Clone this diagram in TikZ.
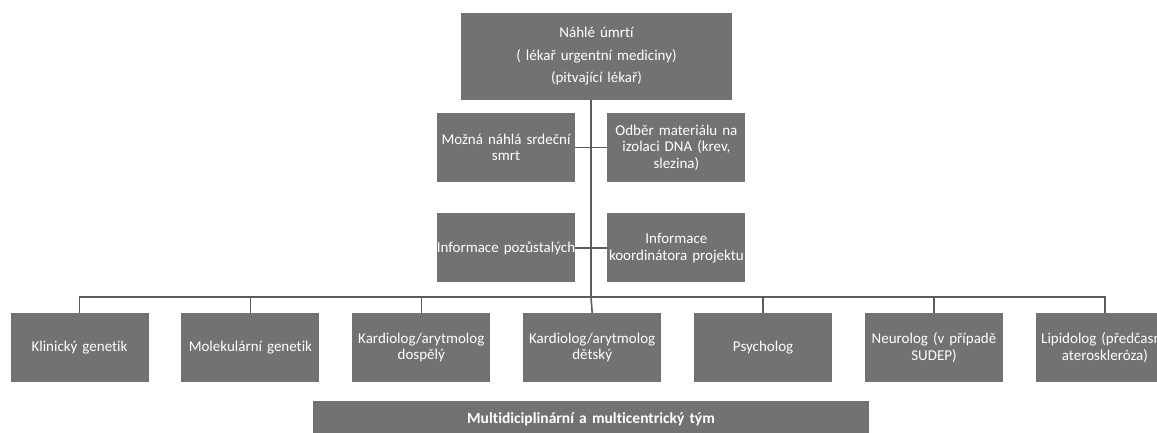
\documentclass[tikz,border=0pt]{standalone}
\usepackage{fontspec}
\setmainfont{Carlito}[Ligatures=NoCommon]
\usetikzlibrary{positioning}
\definecolor{boxgray}{RGB}{114,114,114}
\definecolor{linegray}{RGB}{92,92,92}

\begin{document}
\begin{tikzpicture}[x=1pt,y=-1pt,node distance=31pt and 32pt,
    box/.style={fill=boxgray,text=white,align=center,inner sep=1pt,text width=136pt,minimum height=69pt,font=\fontsize{15}{16.5}\selectfont},
    link/.style={draw=linegray,line width=1.6pt}]
    \useasboundingbox (0,0) rectangle (1157,433);
    \clip (0,0) rectangle (1157,433);
    \node[box,text width=269pt,minimum height=87pt,font=\fontsize{15}{22.5}\selectfont] (death) at (596.5,56.5) {Náhlé úmrtí\\( lékař urgentní mediciny)\\(pitvající lékař)};
    \node[box] (sudden) at (506,147.5) {Možná náhlá srdeční\\smrt};
    \node[box,right=of sudden] (sample) {Odběr materiálu na\\izolaci DNA (krev,\\slezina)};
    \node[box,below=of sudden] (relatives) {\makebox[136pt]{Informace pozůstalých}};
    \node[box,right=of relatives] (coord) {Informace\\koordinátora projektu};
    \node[box] (clin) at (79.5,347.5) {Klinický genetik};
    \node[box,right=32.5pt of clin] (molgen) {Molekulární genetik};
    \node[box,right=32.5pt of molgen] (cardadult) {Kardiolog/arytmolog\\dospělý};
    \node[box,right=32.5pt of cardadult] (cardchild) {Kardiolog/arytmolog\\dětský};
    \node[box,right=32.5pt of cardchild] (psych) {Psycholog};
    \node[box,right=32.5pt of psych] (neuro) {Neurolog (v případě\\SUDEP)};
    \node[box,right=32.5pt of neuro] (lipid) {Lipidolog (předčasná\\ateroskleróza)};
    \node[box,text width=554pt,minimum height=36pt,font=\bfseries\fontsize{15.5}{17}\selectfont] (team) at (591,419) {Multidiciplinární a multicentrický tým};
    \coordinate (bus) at (591,297);
    \draw[link] (death.south -| bus) -- (bus);
    \draw[link] (sudden) -- (sample);
    \draw[link] (relatives) -- (coord);
    \draw[link] (clin.north) |- (bus) -| (lipid.north);
    \draw[link] (molgen.north) -- (molgen.north |- bus);
    \draw[link] (cardadult.north) -- (cardadult.north |- bus);
    \draw[link] (cardchild.north) -- (bus);
    \draw[link] (psych.north) -- (psych.north |- bus);
    \draw[link] (neuro.north) -- (neuro.north |- bus);
  \end{tikzpicture}
\end{document}
